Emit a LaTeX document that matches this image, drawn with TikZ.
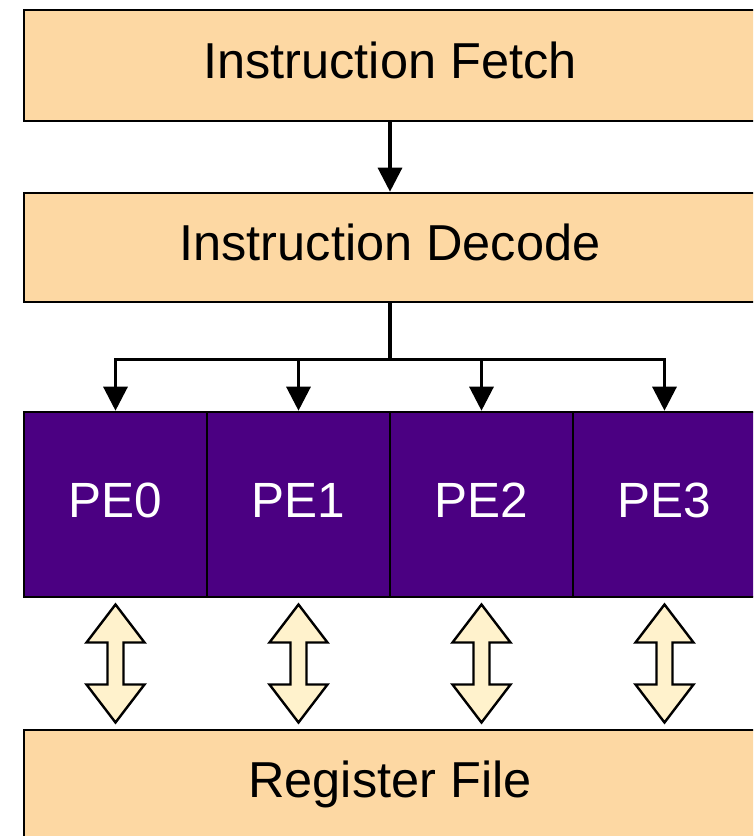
\documentclass[tikz,border=0pt]{standalone}
\usepackage{fontspec}
\setmainfont{Liberation Sans}
\usetikzlibrary{arrows.meta,calc}
\definecolor{stagefill}{HTML}{FDD8A3}
\definecolor{pefill}{HTML}{4B0082}
\definecolor{busfill}{HTML}{FFF2CC}
\tikzset{
  stage/.style={draw=black, line width=2.6pt, fill=stagefill, minimum width=732pt,
    inner sep=0pt, text height=36.5pt, text depth=11pt,
    font=\fontsize{50.5}{60}\selectfont},
  pebox/.style={draw=black, line width=2.6pt, fill=pefill, minimum width=183pt,
    minimum height=185pt, inner sep=0pt, text=white, text height=36pt, text depth=11pt,
    font=\fontsize{49.5}{59}\selectfont},
  flow/.style={draw=black, line width=3.2pt, -{Triangle[width=24pt,length=24pt]}},
  wire/.style={draw=black, line width=3.2pt},
  bus/.style={draw=black, line width=2.4pt, fill=busfill, line join=miter},
  pics/dblarrow/.style={code={
    \path[bus] (0,-59) -- (29,-21) -- (8,-21) -- (8,21) -- (29,21) -- (0,59)
      -- (-29,21) -- (-8,21) -- (-8,-21) -- (-29,-21) -- cycle;}}
}
\begin{document}
\begin{tikzpicture}[x=1pt,y=-1pt]
  \useasboundingbox (0,0) rectangle (753,836);
  \clip (0,0) rectangle (753,836);

  % pipeline stages
  \node[stage, minimum height=111pt] (fetch) at (390,65.5) {Instruction Fetch};
  \node[stage, minimum height=109pt] (decode) at (390,247.5) {Instruction Decode};

  % processing elements
  \node[pebox] (pe0) at (115.5,504.5) {PE0};
  \node[pebox] (pe1) at (298.5,504.5) {PE1};
  \node[pebox] (pe2) at (481.5,504.5) {PE2};
  \node[pebox] (pe3) at (664.5,504.5) {PE3};

  % register file
  \node[stage, minimum height=110pt] (rf) at (390,785) {Register File};

  % fetch to decode
  \draw[flow] (fetch.south) -- (decode.north);

  % decode broadcast to every PE
  \coordinate (split) at ($(decode.south)+(0,56)$);
  \draw[wire] (decode.south) -- (split);
  \foreach \p in {pe0,pe1,pe2,pe3}
    \draw[flow] (split) -| (\p.north);

  % PE <-> register file links
  \foreach \p in {pe0,pe1,pe2,pe3}
    \pic at ($(\p.south)!0.5!(\p.south |- rf.north)$) {dblarrow};
\end{tikzpicture}
\end{document}
